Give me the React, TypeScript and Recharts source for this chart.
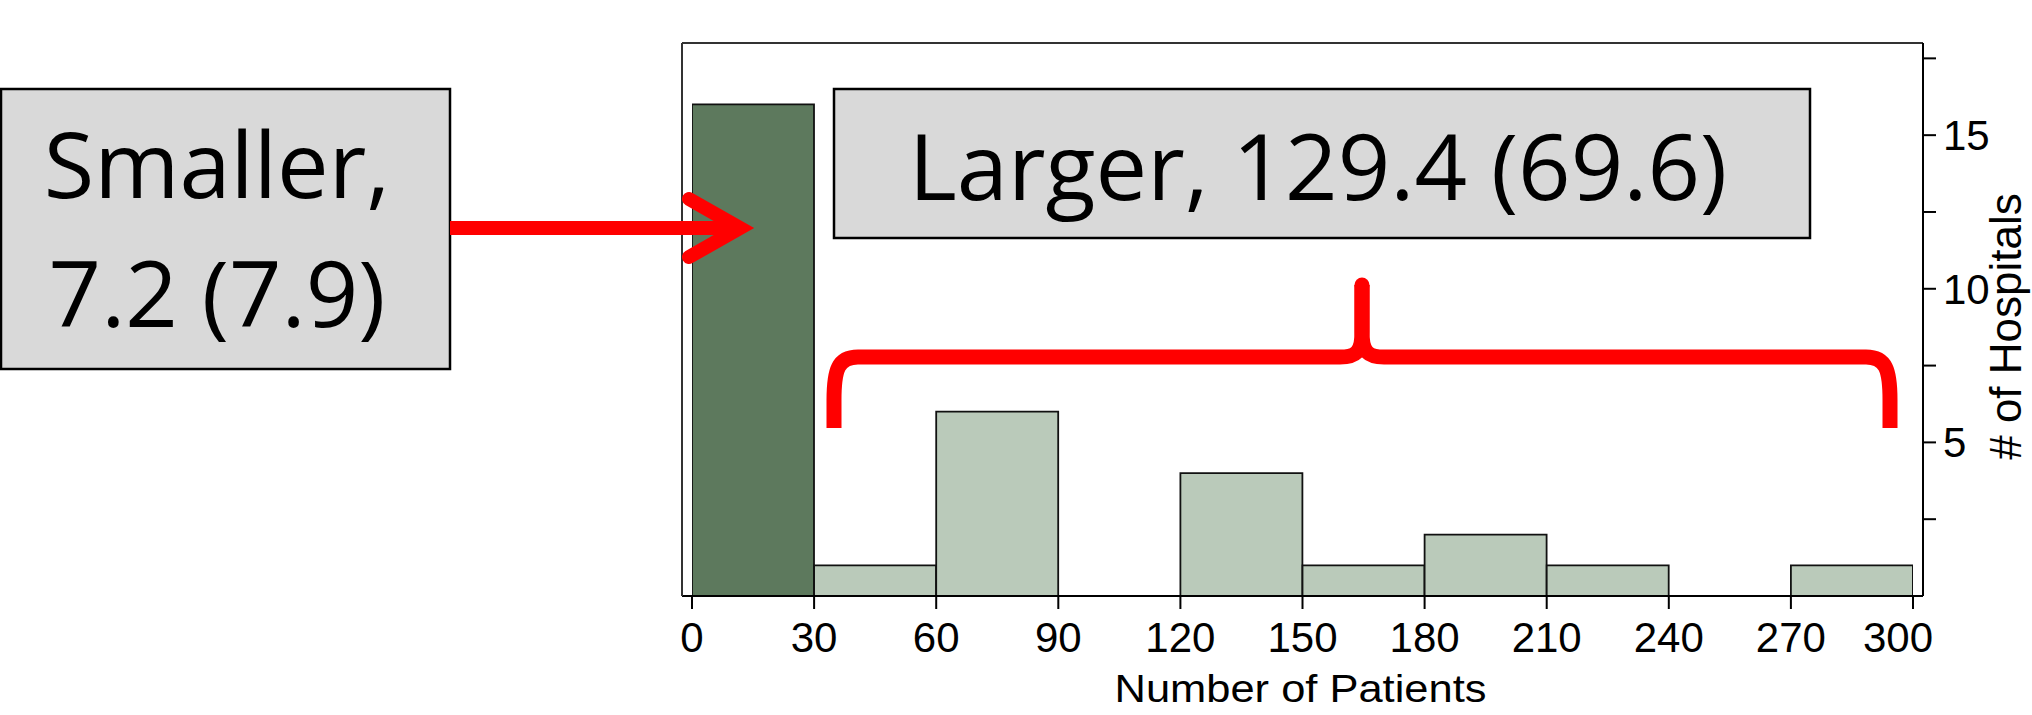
import React from "react";
import { BarChart, Bar, Cell, XAxis, YAxis } from "recharts";

// histogram bins (number of patients) and hospital counts
const binStarts = [0, 30, 60, 90, 120, 150, 180, 210, 240, 270];
const binWidth = 30;
const hospitals = [16, 1, 6, 0, 4, 1, 2, 1, 0, 1];
const xTicks = [0, 30, 60, 90, 120, 150, 180, 210, 240, 270, 300];
const yTicks = [2.5, 5, 7.5, 10, 12.5, 15, 17.5];
const yDomain = [0, 18];

const smallerLines = ["Smaller,", "7.2 (7.9)"];
const largerText = "Larger, 129.4 (69.6)";

const DARK = "#5d795d";
const LIGHT = "#bacaba";
const RED = "#ff0000";
const BOX = "#d9d9d9";

const data = binStarts.map((start, i) => ({
  mid: start + binWidth / 2,
  count: hospitals[i],
  small: i === 0,
}));

const XTick = (props: any) => {
  const { x, y, payload } = props;
  const last = payload.value === xTicks[xTicks.length - 1];
  return (
    <text
      x={x - (last ? 15 : 0)}
      y={y}
      dy="0.71em"
      textAnchor="middle"
      fontSize={42}
      fill="#000"
    >
      {payload.value}
    </text>
  );
};

const XTitle = (props: any) => {
  const vb = props.viewBox || { x: 682, y: 596, width: 1241, height: 119 };
  return (
    <text
      x={vb.x + vb.width / 2 - 2}
      y={vb.y + 106}
      textAnchor="middle"
      fontSize={38}
      fill="#000"
      textLength={372}
      lengthAdjust="spacingAndGlyphs"
    >
      Number of Patients
    </text>
  );
};

const YTitle = (props: any) => {
  const vb = props.viewBox || { x: 1923, y: 43, width: 109, height: 553 };
  const cx = vb.x + vb.width - 11;
  const cy = vb.y + vb.height / 2 + 7;
  return (
    <text
      x={cx}
      y={cy}
      transform={`rotate(-90 ${cx} ${cy})`}
      textAnchor="middle"
      fontSize={44}
      fill="#000"
    >
      # of Hospitals
    </text>
  );
};

function Annotations() {
  const red = { stroke: RED, strokeWidth: 15, fill: "none" };
  return (
    <svg
      width={2032}
      height={715}
      style={{ position: "absolute", left: 0, top: 0, pointerEvents: "none" }}
    >
      {/* Smaller box */}
      <rect x={1} y={89} width={449} height={280} fill={BOX} stroke="#000" strokeWidth={2.5} />
      <g fontFamily='"Open Sans", sans-serif' fontSize={92} fill="#000" textAnchor="middle">
        <text x={217} y={198}>{smallerLines[0]}</text>
        <text x={217} y={327}>{smallerLines[1]}</text>
      </g>

      {/* Larger box */}
      <rect x={834} y={89} width={976} height={149} fill={BOX} stroke="#000" strokeWidth={2.5} />
      <text
        x={1318}
        y={200}
        fontFamily='"Open Sans", sans-serif'
        fontSize={92}
        fill="#000"
        textAnchor="middle"
      >
        {largerText}
      </text>

      {/* arrow */}
      <line x1={450} y1={228} x2={742} y2={228} stroke={RED} strokeWidth={14} />
      <polyline
        points="689,199 740,228 689,257"
        fill="none"
        stroke={RED}
        strokeWidth={14}
        strokeLinecap="round"
        strokeLinejoin="miter"
      />

      {/* brace */}
      <path {...red} d="M 834 428 L 834 400 C 834 370 838 357 858 357 L 1340 357 C 1356 357 1362 352 1362 332 L 1362 285" />
      <path {...red} d="M 1890 428 L 1890 400 C 1890 370 1886 357 1866 357 L 1384 357 C 1368 357 1362 352 1362 332 L 1362 285" />
      <circle cx={1362} cy={285} r={7.5} fill={RED} />
    </svg>
  );
}

export default function App() {
  return (
    <div
      style={{
        position: "absolute",
        left: 0,
        top: 0,
        width: 2032,
        height: 715,
        overflow: "hidden",
        background: "#fff",
        fontFamily: '"Liberation Sans", Arial, sans-serif',
      }}
    >
      <BarChart
        width={2032}
        height={715}
        data={data}
        margin={{ top: 42, right: 0, bottom: 0, left: 681 }}
        barCategoryGap={0}
        barGap={0}
      >
        <XAxis
          dataKey="mid"
          type="number"
          domain={[0, 300]}
          ticks={xTicks}
          interval={0}
          padding={{ left: 10, right: 10 }}
          height={119}
          tickSize={13}
          tickMargin={13}
          tick={XTick}
          axisLine={{ stroke: "#000", strokeWidth: 2 }}
          tickLine={{ stroke: "#000", strokeWidth: 2 }}
          allowDataOverflow
          label={<XTitle />}
        />
        <XAxis
          xAxisId="top"
          orientation="top"
          dataKey="mid"
          type="number"
          domain={[0, 300]}
          height={1}
          tick={false}
          tickLine={false}
          axisLine={{ stroke: "#333", strokeWidth: 2 }}
        />
        <YAxis
          yAxisId="left"
          orientation="left"
          width={1}
          domain={yDomain}
          tick={false}
          tickLine={false}
          axisLine={{ stroke: "#333", strokeWidth: 2 }}
        />
        <YAxis
          orientation="right"
          width={109}
          domain={yDomain}
          ticks={yTicks}
          interval={0}
          tickSize={13}
          tickMargin={7}
          tick={{ fontSize: 42, fill: "#000" }}
          tickFormatter={(v: number) => (v % 5 === 0 ? String(v) : "")}
          axisLine={{ stroke: "#000", strokeWidth: 2 }}
          tickLine={{ stroke: "#000", strokeWidth: 2 }}
          label={<YTitle />}
        />
        <Bar dataKey="count" isAnimationActive={false} stroke="#111" strokeWidth={1.8}>
          {data.map((d, i) => (
            <Cell key={i} fill={d.small ? DARK : LIGHT} />
          ))}
        </Bar>
      </BarChart>
      <Annotations />
    </div>
  );
}
